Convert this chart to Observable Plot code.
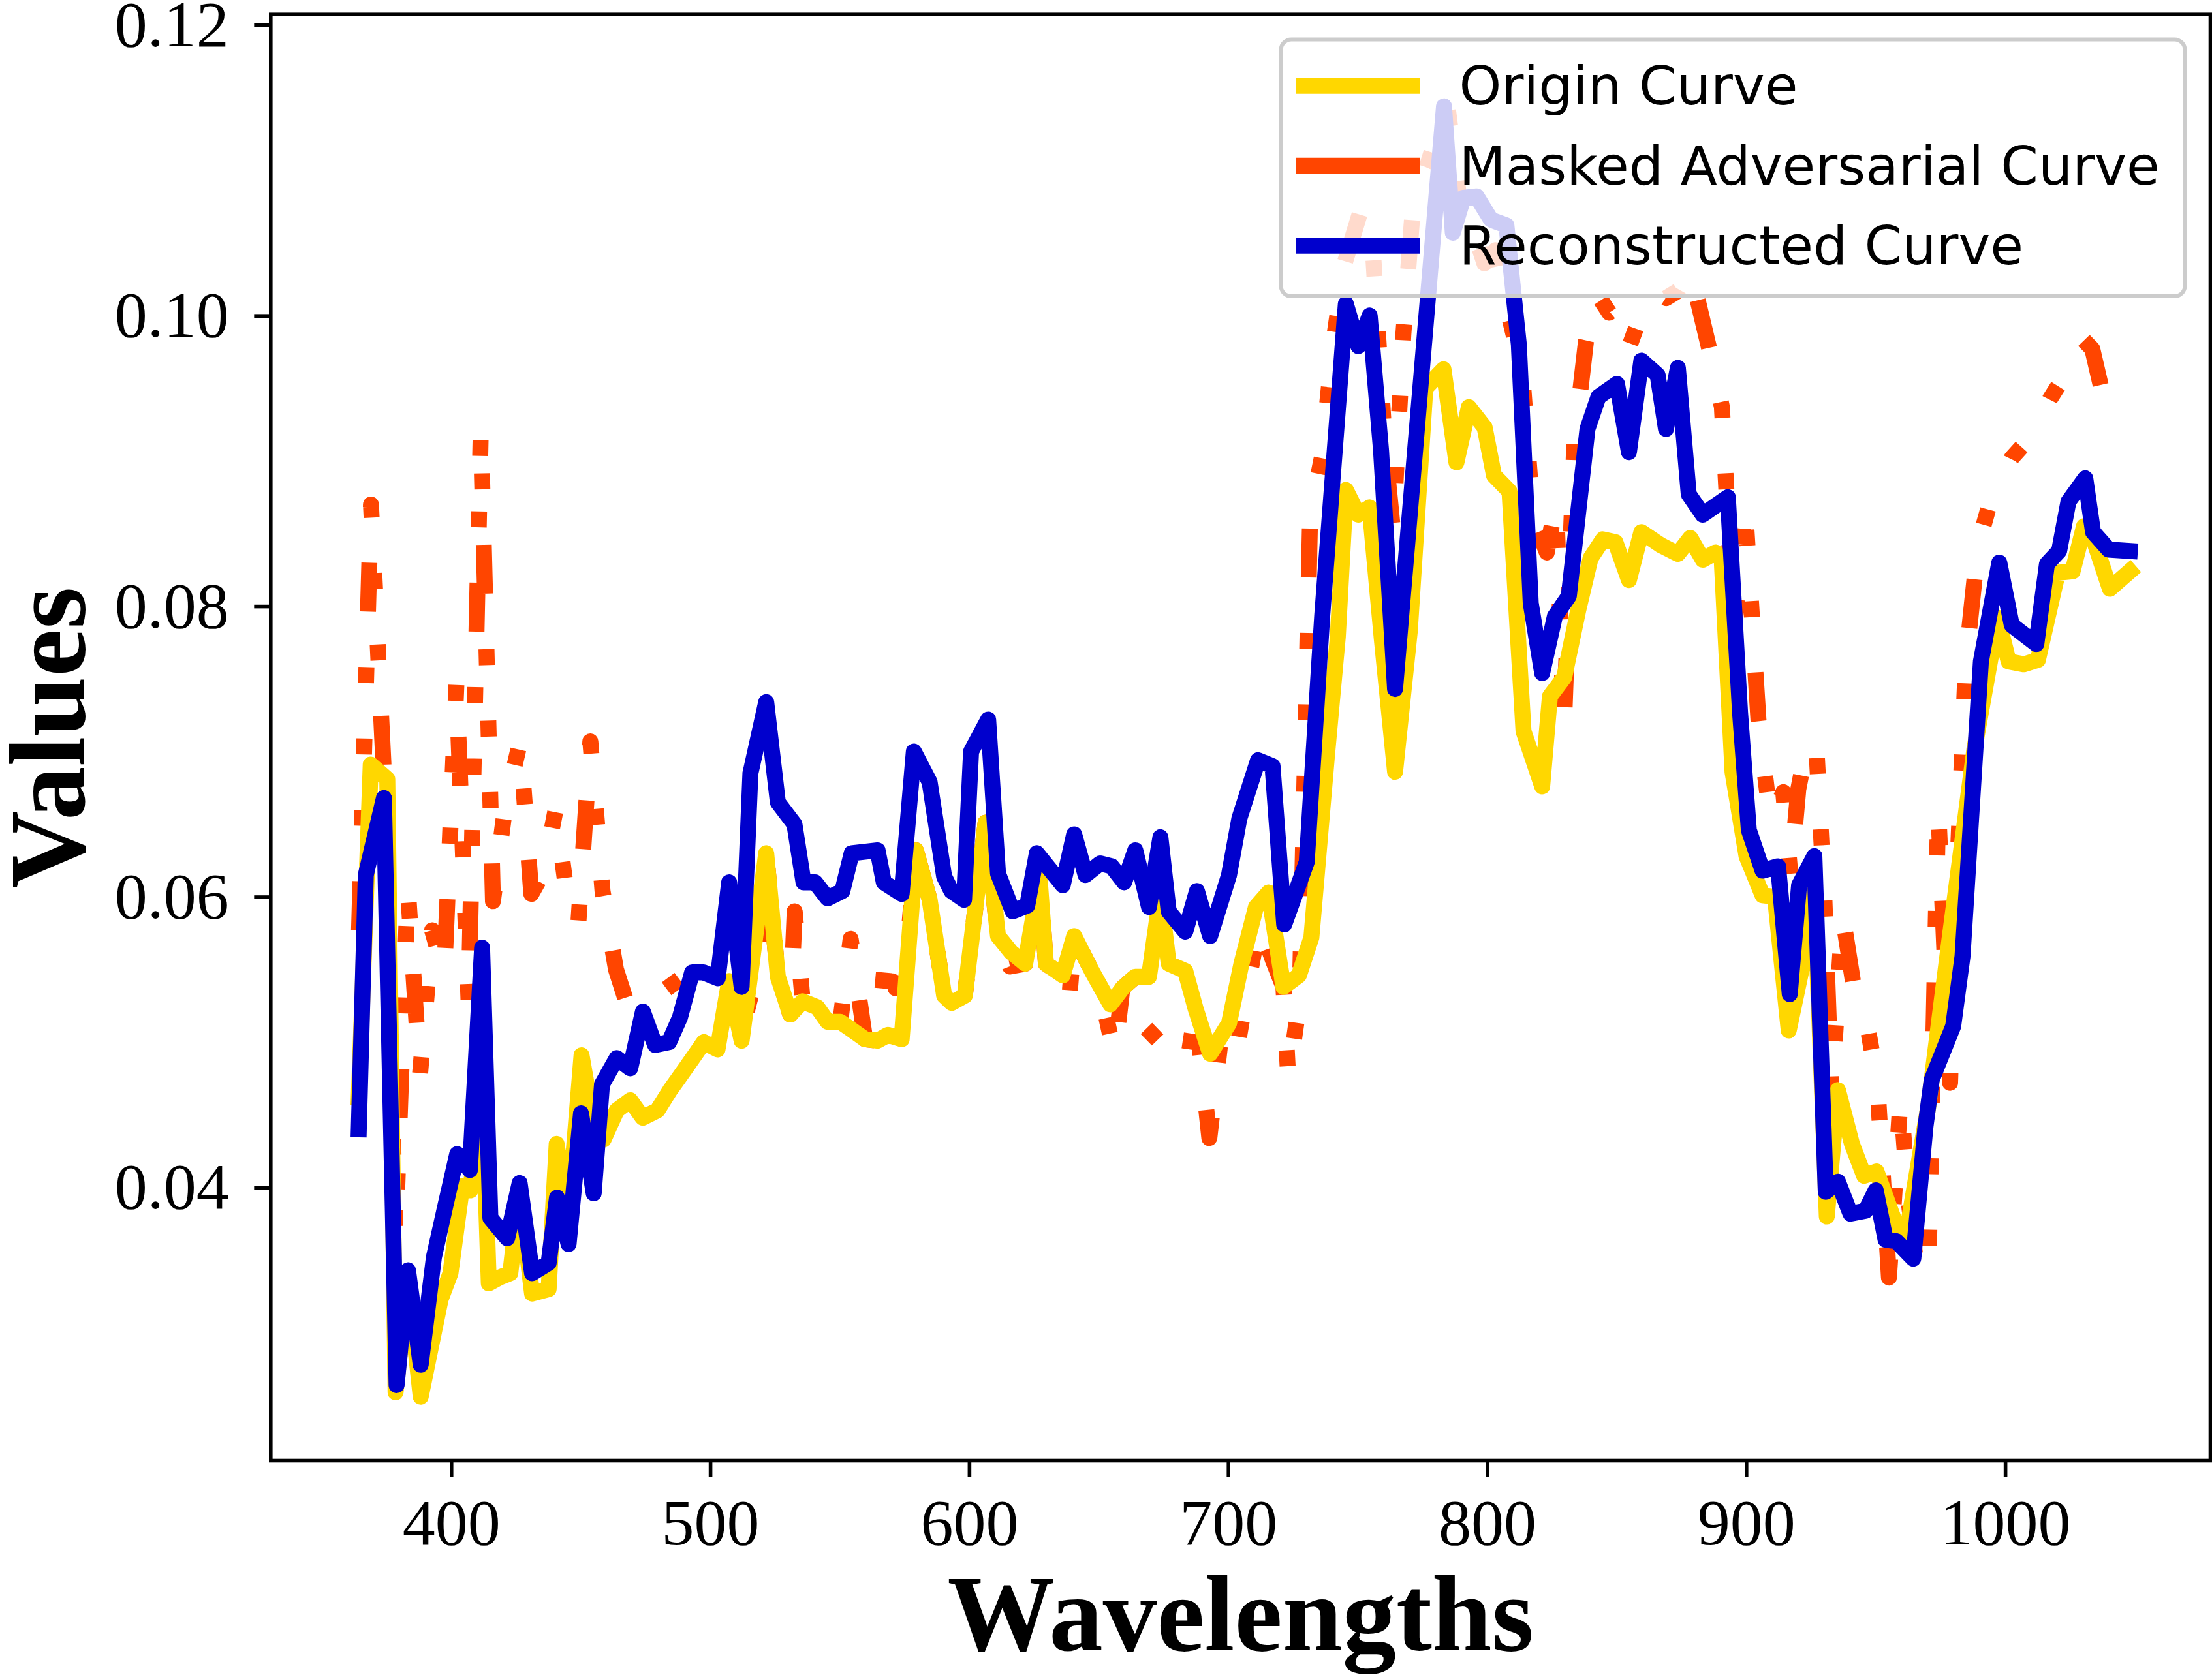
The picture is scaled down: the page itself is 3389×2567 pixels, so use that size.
<!DOCTYPE html>
<html><head><meta charset="utf-8">
<script src="https://cdn.jsdelivr.net/npm/d3@7"></script>
<script src="https://cdn.jsdelivr.net/npm/@observablehq/plot@0.6"></script>
<style>html,body{margin:0;padding:0;background:#fff}svg{display:block}</style>
</head><body><div id="chart"></div>
<script>
const seriesNames = ["Origin Curve", "Masked Adversarial Curve", "Reconstructed Curve"];
const seriesColors = ["#FFD700", "#FF4500", "#0000CD"];
const xTicks = [400, 500, 600, 700, 800, 900, 1000];
const yTicks = [0.04, 0.06, 0.08, 0.10, 0.12];
const xLabel = "Wavelengths";
const yLabel = "Values";

const originCurve = [
[364.2,0.0460],[368.8,0.0689],[375.2,0.0679],[378.4,0.0257],[383.2,0.0335],[388.1,0.0254],[395.8,0.0321],[399.6,0.0339],[404.1,0.0399],[407.3,0.0396],
[411.8,0.0470],[414.4,0.0332],[418.5,0.0336],[422.7,0.0339],[426.3,0.0395],[431.1,0.0325],[437.5,0.0328],[440.6,0.0428],[445.0,0.0375],[450.2,0.0489],
[454.5,0.0445],[458.7,0.0431],[463.8,0.0451],[469.0,0.0458],[473.8,0.0446],[479.5,0.0451],[484.4,0.0465],[488.4,0.0475],[493.9,0.0489],[497.4,0.0498],
[502.7,0.0493],[507.2,0.0540],[512.0,0.0499],[521.5,0.0628],[526.0,0.0543],[530.8,0.0517],[535.6,0.0526],[541.2,0.0522],[545.2,0.0512],[550.1,0.0512],
[554.1,0.0507],[559.7,0.0500],[564.5,0.0499],[568.5,0.0503],[573.8,0.0500],[579.3,0.0630],[584.6,0.0596],[590.2,0.0530],[593.1,0.0525],[598.2,0.0530],
[606.2,0.0649],[611.0,0.0571],[616.0,0.0560],[621.5,0.0552],[627.1,0.0610],[629.5,0.0552],[636.0,0.0544],[640.4,0.0571],[647.2,0.0547],[654.4,0.0524],
[659.0,0.0535],[664.0,0.0543],[669.3,0.0543],[673.7,0.0599],[676.9,0.0552],[683.3,0.0547],[687.3,0.0521],[692.9,0.0490],[700.2,0.0511],[705.0,0.0552],
[710.6,0.0591],[715.5,0.0601],[721.2,0.0536],[727.2,0.0544],[732.0,0.0570],[738.0,0.0695],[742.2,0.0777],[745.3,0.0878],[750.1,0.0861],[754.5,0.0866],
[759.2,0.0775],[764.3,0.0684],[770.0,0.0781],[776.0,0.0948],[783.0,0.0961],[788.0,0.0897],[792.8,0.0935],[798.9,0.0921],[802.5,0.0888],[808.5,0.0877],
[813.9,0.0712],[821.1,0.0674],[824.1,0.0736],[829.6,0.0749],[835.0,0.0795],[839.8,0.0831],[844.6,0.0844],[849.4,0.0842],[854.6,0.0816],[859.4,0.0849],
[866.9,0.0840],[873.5,0.0834],[878.3,0.0845],[883.1,0.0830],[888.0,0.0835],[890.4,0.0831],[894.6,0.0684],[900.0,0.0626],[906.2,0.0599],[911.0,0.0598],
[916.3,0.0506],[923.5,0.0567],[926.2,0.0605],[931.0,0.0378],[935.3,0.0465],[940.7,0.0428],[945.4,0.0406],[950.2,0.0409],[957.3,0.0374],[961.4,0.0362],
[970.3,0.0455],[978.6,0.0572],[988.0,0.0700],[997.0,0.0790],[1001.2,0.0760],[1007.1,0.0758],[1012.5,0.0761],[1020.2,0.0821],[1025.9,0.0822],[1030.3,0.0853],
[1033.8,0.0845],[1040.3,0.0810],[1048.0,0.0822]
];

const maskedCurve = [
[364.3,0.0575],[368.9,0.0868],[373.7,0.0690],[378.4,0.0365],[383.1,0.0605],[387.8,0.0475],[392.5,0.0575],[397.2,0.0545],[401.9,0.0745],[406.6,0.0525],
[411.3,0.0920],[416.0,0.0595],[420.7,0.0660],[426.5,0.0705],[430.8,0.0600],[435.5,0.0615],[440.2,0.0658],[444.5,0.0600],[448.9,0.0578],[453.6,0.0705],
[458.3,0.0602],[463.5,0.0548],[468.0,0.0523],[472.5,0.0520],[477.5,0.0528],[482.5,0.0534],[487.0,0.0540],[491.5,0.0546],[496.0,0.0546],[502.8,0.0542],
[507.2,0.0540],[512.0,0.0505],[518.0,0.0547],[521.5,0.0628],[526.0,0.0543],[530.8,0.0517],[532.5,0.0588],[535.6,0.0526],[541.2,0.0522],[545.2,0.0512],
[550.1,0.0512],[554.1,0.0569],[559.7,0.0500],[564.5,0.0499],[567.7,0.0560],[571.5,0.0535],[575.7,0.0556],[579.3,0.0630],[584.6,0.0596],[590.2,0.0530],
[593.1,0.0525],[598.2,0.0530],[606.2,0.0649],[611.0,0.0571],[615.6,0.0550],[621.5,0.0552],[627.1,0.0610],[629.5,0.0552],[636.0,0.0544],[638.4,0.0525],
[640.4,0.0571],[647.2,0.0547],[651.0,0.0530],[656.0,0.0489],[659.0,0.0535],[664.0,0.0543],[668.0,0.0508],[674.0,0.0497],[680.1,0.0490],[684.0,0.0482],
[687.3,0.0521],[692.6,0.0432],[697.0,0.0500],[702.6,0.0486],[707.7,0.0540],[712.0,0.0580],[717.0,0.0555],[721.2,0.0536],[723.1,0.0472],[727.5,0.0528],
[731.5,0.0860],[736.0,0.0900],[740.4,0.0978],[745.0,0.1035],[751.0,0.1070],[755.5,0.1050],[760.5,0.0905],[763.5,0.0850],[767.5,0.0985],[771.5,0.1080],
[776.5,0.1100],[781.0,0.1125],[784.5,0.1143],[789.0,0.1080],[794.0,0.1060],[798.8,0.1034],[803.1,0.1043],[808.0,0.1000],[813.3,0.0961],[817.5,0.0860],
[822.9,0.0835],[826.5,0.0870],[829.5,0.0715],[833.5,0.0910],[838.0,0.0980],[842.2,0.1013],[847.0,0.1000],[850.5,0.1005],[854.8,0.0977],[859.5,0.1000],
[864.5,0.1015],[869.0,0.1010],[873.5,0.1015],[878.3,0.1030],[885.5,0.0976],[890.5,0.0935],[895.2,0.0780],[899.3,0.0870],[904.6,0.0720],[909.3,0.0650],
[914.2,0.0670],[917.0,0.0612],[920.0,0.0672],[923.6,0.0705],[927.0,0.0700],[930.0,0.0600],[932.8,0.0462],[937.1,0.0585],[942.4,0.0525],[947.1,0.0505],
[950.5,0.0470],[955.0,0.0336],[959.5,0.0460],[962.5,0.0390],[966.0,0.0338],[970.3,0.0345],[974.0,0.0660],[978.6,0.0470],[981.0,0.0600],[984.7,0.0760],
[989.4,0.0840],[994.1,0.0870],[1002.4,0.0900],[1010.0,0.0915],[1017.3,0.0941],[1024.0,0.0960],[1029.7,0.0982],[1033.5,0.0975],[1038.7,0.0935]
];

const reconCurve = [
[364.2,0.0438],[366.9,0.0613],[373.9,0.0666],[378.8,0.0262],[383.2,0.0341],[388.1,0.0276],[393.2,0.0350],[397.7,0.0386],[402.2,0.0421],[407.1,0.0410],
[411.8,0.0563],[415.0,0.0377],[421.5,0.0363],[426.3,0.0401],[431.1,0.0339],[437.5,0.0346],[440.7,0.0391],[445.2,0.0359],[450.0,0.0449],[454.9,0.0394],
[458.1,0.0469],[463.8,0.0487],[469.0,0.0480],[473.9,0.0519],[478.6,0.0496],[484.0,0.0498],[488.2,0.0515],[492.9,0.0546],[497.2,0.0546],[502.8,0.0542],
[507.2,0.0608],[512.0,0.0536],[515.4,0.0683],[521.5,0.0732],[526.0,0.0663],[532.4,0.0648],[535.9,0.0608],[540.4,0.0608],[545.2,0.0597],[550.9,0.0602],
[554.5,0.0628],[564.5,0.0630],[566.9,0.0608],[573.8,0.0600],[578.5,0.0698],[584.6,0.0677],[590.2,0.0612],[593.0,0.0602],[597.9,0.0596],[600.6,0.0698],
[607.2,0.0720],[611.0,0.0614],[616.7,0.0588],[622.3,0.0592],[626.0,0.0628],[631.0,0.0617],[636.0,0.0606],[640.4,0.0641],[644.8,0.0613],[650.4,0.0621],
[654.9,0.0619],[659.7,0.0608],[664.0,0.0630],[669.3,0.0591],[673.7,0.0639],[676.9,0.0588],[683.3,0.0574],[687.8,0.0602],[692.9,0.0571],[700.2,0.0613],
[704.2,0.0652],[711.4,0.0692],[717.0,0.0688],[721.5,0.0579],[730.2,0.0622],[736.2,0.0792],[745.3,0.1006],[750.1,0.0977],[754.5,0.0998],[758.9,0.0905],
[764.3,0.0741],[783.2,0.1142],[786.6,0.1055],[790.7,0.1079],[795.8,0.1080],[801.3,0.1064],[807.3,0.1060],[812.1,0.0978],[816.7,0.0800],[821.1,0.0752],
[826.0,0.0791],[831.4,0.0805],[838.6,0.0920],[842.8,0.0942],[850.0,0.0951],[854.6,0.0904],[859.4,0.0967],[865.7,0.0957],[868.9,0.0920],[873.5,0.0962],
[877.7,0.0875],[883.1,0.0861],[892.8,0.0873],[897.5,0.0725],[900.9,0.0644],[906.2,0.0616],[912.2,0.0619],[916.7,0.0531],[920.3,0.0606],[926.2,0.0626],
[930.6,0.0395],[935.3,0.0402],[940.1,0.0380],[946.0,0.0382],[949.9,0.0396],[953.7,0.0362],[957.9,0.0361],[964.4,0.0349],[969.1,0.0440],[971.5,0.0472],
[979.8,0.0509],[983.4,0.0557],[990.5,0.0760],[997.6,0.0828],[1002.4,0.0785],[1011.9,0.0772],[1016.0,0.0827],[1020.7,0.0836],[1024.3,0.0870],[1030.8,0.0886],
[1033.8,0.0849],[1039.8,0.0837],[1048.0,0.0836]
];

const LW = 24.5;

function legendMark(index, scales, values, dims) {
  const right = dims.width - dims.marginRight;
  const top = dims.marginTop;
  const bw = 1385, bh = 393.5;
  const x0 = right - 38.5 - bw, y0 = top + 38.8;
  const g = d3.create("svg:g").attr("text-anchor", "start");
  g.append("rect")
    .attr("x", x0).attr("y", y0).attr("width", bw).attr("height", bh)
    .attr("rx", 16).attr("ry", 16)
    .attr("fill", "white").attr("fill-opacity", 0.8)
    .attr("stroke", "#cccccc").attr("stroke-width", 6);
  seriesNames.forEach((name, i) => {
    const cy = y0 + 71.1 + i * 122.5;
    g.append("line")
      .attr("x1", x0 + 22.5).attr("x2", x0 + 213.5)
      .attr("y1", cy).attr("y2", cy)
      .attr("stroke", seriesColors[i]).attr("stroke-width", LW)
      .attr("stroke-linecap", "butt");
    g.append("text")
      .attr("x", x0 + 273).attr("y", cy + 28.8)
      .attr("text-anchor", "start")
      .attr("font-family", "DejaVu Sans").attr("font-size", 82.5)
      .attr("fill", "black").text(name);
  });
  return g.node();
}

const lineOpts = (color) => ({
  x: d => d[0], y: d => d[1], stroke: color, strokeWidth: LW,
  strokeLinejoin: "round", strokeLinecap: "square", clip: true
});

const chart = Plot.plot({
  width: 3389, height: 2567,
  marginLeft: 414.3, marginRight: 3, marginTop: 21.7, marginBottom: 329,
  style: {background: "white", color: "black"},
  x: {domain: [330.2, 1079.1]},
  y: {domain: [0.0210, 0.12052]},
  marks: [
    Plot.line(maskedCurve, {...lineOpts(seriesColors[1]), strokeLinecap: "butt",
      strokeDasharray: "75,85,24.5,85,24.5,85,24.5,85"}),
    Plot.line(originCurve, lineOpts(seriesColors[0])),
    Plot.line(reconCurve, lineOpts(seriesColors[2])),
    Plot.frame({stroke: "black", strokeWidth: 5.6}),
    Plot.axisX({ticks: xTicks, tickFormat: d => String(d), tickSize: 25, tickPadding: 32.7,
      strokeWidth: 5.6, fontSize: 100, fontFamily: "Liberation Serif", label: null}),
    Plot.axisY({ticks: yTicks, tickFormat: d3.format(".2f"), tickSize: 25, tickPadding: 39, dy: 5,
      strokeWidth: 5.6, fontSize: 100, fontFamily: "Liberation Serif", label: null}),
    Plot.text([xLabel], {text: d => d, frameAnchor: "bottom", dy: 290, lineAnchor: "bottom",
      textAnchor: "middle", fontSize: 165, fontWeight: "bold", fontFamily: "Liberation Serif", fill: "black"}),
    Plot.text([yLabel], {text: d => d, frameAnchor: "left", dx: -286, rotate: -90, lineAnchor: "bottom",
      textAnchor: "middle", fontSize: 165, fontWeight: "bold", fontFamily: "Liberation Serif", fill: "black"}),
    legendMark
  ]
});
document.getElementById("chart").appendChild(chart);
</script>
</body></html>
